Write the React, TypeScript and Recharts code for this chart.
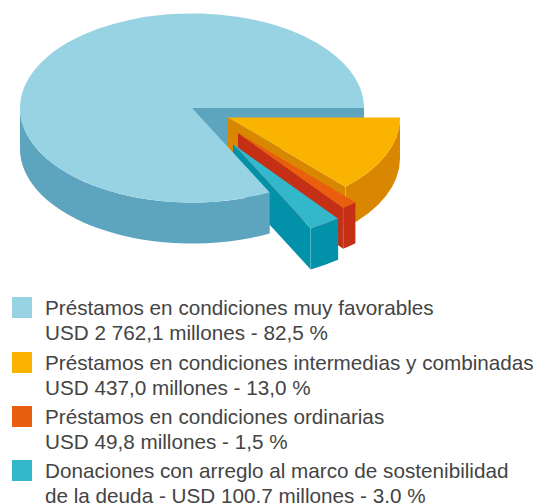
import React from 'react';
import { PieChart, Pie } from 'recharts';

const categories = [
  'Préstamos en condiciones muy favorables',
  'Préstamos en condiciones intermedias y combinadas',
  'Préstamos en condiciones ordinarias',
  'Donaciones con arreglo al marco de sostenibilidad',
];
const captions = [
  'USD 2 762,1 millones - 82,5 %',
  'USD 437,0 millones - 13,0 %',
  'USD 49,8 millones - 1,5 %',
  'de la deuda - USD 100,7 millones - 3,0 %',
];
const values = [2762.1, 437.0, 49.8, 100.7];

const topColors = ['#97d3e3', '#fab400', '#e95e0f', '#33b8cb'];
const sideColors = ['#5da4bf', '#d98700', '#c42f15', '#0191a8'];
// how far each slice is pulled out of the pie, in pixels on the page
const pullX = [0, 36, 46, 41];
const pullY = [0, 9.5, 25, 36];

const legendTops = [297, 352, 406, 460];

const SQUASH = 0.55;
const DEPTH = 41;

const total = values.reduce((a, b) => a + b, 0);
const mainSweep = (values[0] / total) * 360;

const tableData = categories.map((name, i) => ({
  name,
  value: values[i],
  fill: topColors[i],
  side: sideColors[i],
  pullX: pullX[i],
  pullY: pullY[i],
  isMain: i === 0,
}));

function wedgeParts(props: any) {
  const { cx, cy, outerRadius: r, startAngle, endAngle } = props;
  const entry = props.payload || props;
  const x0 = cx + entry.pullX;
  const y0 = cy + entry.pullY;
  const hi = Math.max(startAngle, endAngle);
  const lo = Math.min(startAngle, endAngle);
  const pt = (deg: number, drop = 0) => {
    const a = (deg * Math.PI) / 180;
    return `${x0 + r * Math.cos(a)} ${y0 - SQUASH * r * Math.sin(a) + drop}`;
  };
  const arc = (from: number, to: number, drop = 0, cw = true) =>
    `A ${r} ${SQUASH * r} 0 ${Math.abs(from - to) > 180 ? 1 : 0} ${cw ? 1 : 0} ${pt(to, drop)}`;

  const top = `M ${x0} ${y0} L ${pt(hi)} ${arc(hi, lo)} Z`;
  const cut = `M ${x0} ${y0} L ${pt(lo)} L ${pt(lo, DEPTH)} L ${x0} ${y0 + DEPTH} Z`;

  // the rim only shows on the front half of the ellipse
  const rims: string[] = [];
  [[-180, 0], [180, 360]].forEach(([a, b]) => {
    const from = Math.min(hi, b);
    const to = Math.max(lo, a);
    if (from > to) {
      rims.push(`M ${pt(from)} ${arc(from, to)} L ${pt(to, DEPTH)} ${arc(to, from, DEPTH, false)} Z`);
    }
  });
  return { top, cut, rims, corner: [pt(lo), pt(lo, DEPTH)], entry };
}

// first pass: wall of the main slice, then the pulled out slices
function BackSlice(props: any) {
  const { top, cut, rims, corner, entry } = wedgeParts(props);
  if (entry.isMain) return <path d={cut} fill={entry.side} />;
  return (
    <g>
      <path d={cut} fill={entry.side} />
      {rims.map((d, i) => <path key={i} d={d} fill={entry.side} />)}
      <path d={`M ${corner[0]} L ${corner[1]}`} stroke="#ffffff" strokeOpacity={0.25} strokeWidth={0.6} />
      <path d={top} fill={entry.fill} />
    </g>
  );
}

// second pass: the main slice goes over the inner ends of the others
function FrontSlice(props: any) {
  const { top, rims, entry } = wedgeParts(props);
  if (!entry.isMain) return <g />;
  return (
    <g>
      {rims.map((d, i) => <path key={i} d={d} fill={entry.side} />)}
      <path d={top} fill={entry.fill} />
    </g>
  );
}

export default function App() {
  const pieProps = {
    data: tableData,
    dataKey: 'value',
    nameKey: 'name',
    cx: 192,
    cy: 108,
    outerRadius: 172,
    startAngle: mainSweep,
    endAngle: mainSweep - 360,
    stroke: 'none',
    paddingAngle: 0,
    isAnimationActive: false,
    legendType: 'none' as const,
  };

  return (
    <div style={{ position: 'absolute', left: 0, top: 0, width: 538, height: 503, overflow: 'hidden', background: '#fff' }}>
      <PieChart width={538} height={290} margin={{ top: 0, right: 0, bottom: 0, left: 0 }}>
        <Pie {...pieProps} shape={BackSlice} />
        <Pie {...pieProps} shape={FrontSlice} />
      </PieChart>
      {categories.map((name, i) => (
        <div key={name}>
          <div style={{ position: 'absolute', left: 12, top: legendTops[i], width: 20, height: 21, background: topColors[i] }} />
          <div
            style={{
              position: 'absolute',
              left: 45,
              top: legendTops[i] - 1,
              fontFamily: '"Liberation Sans", sans-serif',
              fontSize: 20.7,
              lineHeight: '24.5px',
              color: '#444444',
              whiteSpace: 'nowrap',
            }}
          >
            <div>{name}</div>
            <div>{captions[i]}</div>
          </div>
        </div>
      ))}
    </div>
  );
}
